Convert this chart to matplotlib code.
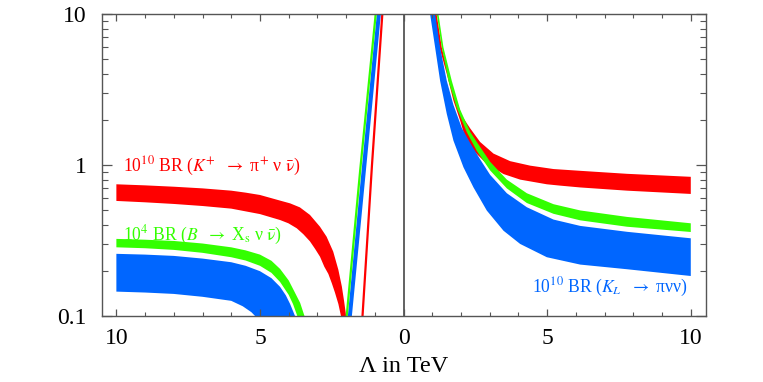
# Branching ratios vs Lambda (bands)
import numpy as np
import matplotlib
matplotlib.use('Agg')
import matplotlib.pyplot as plt
from matplotlib.ticker import FixedLocator, FuncFormatter, LogLocator, NullFormatter

plt.rcParams['font.family'] = ['Liberation Serif', 'DejaVu Serif']
plt.rcParams['mathtext.fontset'] = 'stix'

RED = '#ff0000'
GREEN = '#33ff00'
BLUE = '#0066ff'

# --- K+ -> pi+ nu nubar (red) ---
red_neg_up_x = [-10, -9, -8, -7, -6, -5.5, -5, -4.3, -3.95, -3.61, -3.26, -2.91, -2.68,
                -2.45, -2.27, -2.15, -2.07, -2.0, -1.96]
red_neg_up_y = [0.745, 0.733, 0.718, 0.700, 0.676, 0.656, 0.633, 0.581, 0.557, 0.524, 0.467,
                0.390, 0.335, 0.267, 0.202, 0.157, 0.125, 0.1, 0.05]
red_neg_lo_x = [-10, -9, -8, -7, -6, -5, -4.3, -4.01, -3.72, -3.49, -3.26, -3.08, -2.91,
                -2.76, -2.62, -2.50, -2.39, -2.27, -2.18, -2.13]
red_neg_lo_y = [0.578, 0.566, 0.552, 0.535, 0.514, 0.473, 0.432, 0.411, 0.381, 0.348, 0.312,
                0.278, 0.247, 0.212, 0.190, 0.165, 0.143, 0.120, 0.1, 0.05]
red_line_x = [-1.46, -1.43, -1.10, -0.74, -0.70]
red_line_y = [0.05, 0.1, 1.0, 10, 12]
red_pos_up_x = [1.12, 1.15, 1.33, 1.62, 1.90, 2.027, 2.317, 2.666, 3.13, 3.711, 4.408,
                5.221, 6.15, 7.78, 10]
red_pos_up_y = [12, 10, 6.0, 3.6, 2.5, 2.12, 1.75, 1.42, 1.19, 1.06, 0.99,
                0.94, 0.915, 0.874, 0.835]
red_pos_lo_x = [0.98, 1.04, 1.25, 1.504, 1.736, 1.969, 2.143, 2.433, 2.898, 3.479, 4.059,
                4.988, 5.45, 6.15, 7.78, 10]
red_pos_lo_y = [12, 10, 6.0, 4.01, 2.67, 1.97, 1.52, 1.245, 1.015, 0.871, 0.80,
                0.745, 0.730, 0.71, 0.676, 0.643]

# --- B -> Xs nu nubar (green) ---
grn_neg_up_x = [-10, -9, -8, -7, -6, -5.5, -5, -4.6, -4.3, -4.0, -3.8, -3.6, -3.45, -3.4]
grn_neg_up_y = [0.324, 0.320, 0.314, 0.302, 0.285, 0.272, 0.255, 0.232, 0.205, 0.172,
                0.145, 0.122, 0.1, 0.05]
grn_neg_lo_x = [-10, -9, -8, -7, -6, -5.5, -5, -4.6, -4.3, -4.0, -3.85, -3.7, -3.65]
grn_neg_lo_y = [0.285, 0.281, 0.274, 0.262, 0.245, 0.233, 0.215, 0.193, 0.168, 0.138,
                0.120, 0.1, 0.05]
grn_line_x = [-2.01, -1.98, -1.51, -0.97, -0.94]
grn_line_y = [0.05, 0.1, 0.927, 10, 12]
grn_pos_up_x = [1.16, 1.214, 1.388, 1.678, 1.969, 2.317, 2.549, 3.014, 3.595, 4.292,
                5.221, 6.15, 7.78, 10]
grn_pos_up_y = [12, 10, 6.01, 3.61, 2.33, 1.66, 1.42, 1.05, 0.80, 0.65,
                0.55, 0.50, 0.453, 0.411]
grn_pos_lo_x = [1.06, 1.156, 1.330, 1.562, 1.853, 2.201, 2.549, 3.014, 3.595, 4.292,
                5.221, 6.15, 7.78, 10]
grn_pos_lo_y = [12, 10, 6.01, 3.61, 2.38, 1.65, 1.24, 0.92, 0.70, 0.56,
                0.475, 0.43, 0.39, 0.36]

# --- KL -> pi nu nu (blue) ---
blu_neg_up_x = [-10, -9, -8, -7, -6, -5.5, -5, -4.6, -4.3, -4.1, -3.95, -3.78, -3.74]
blu_neg_up_y = [0.258, 0.255, 0.250, 0.240, 0.227, 0.215, 0.198, 0.178, 0.156, 0.137,
                0.12, 0.1, 0.05]
blu_neg_lo_x = [-10, -9, -8, -7, -6, -5.6, -5.3, -5.17, -5.1]
blu_neg_lo_y = [0.145, 0.143, 0.140, 0.134, 0.126, 0.116, 0.106, 0.1, 0.05]
blu_thick_l_x = [-1.97, -1.94, -1.46, -0.93, -0.90]
blu_thick_l_y = [0.05, 0.1, 0.927, 10, 12]
blu_thick_r_x = [-1.83, -1.80, -1.31, -0.79, -0.76]
blu_thick_r_y = [0.05, 0.1, 0.927, 10, 12]
blu_pos_up_x = [1.08, 1.098, 1.272, 1.504, 1.736, 2.027, 2.317, 2.666, 3.014, 3.595,
                4.292, 5.221, 6.15, 7.78, 10]
blu_pos_up_y = [12, 10, 6.01, 3.61, 2.50, 1.76, 1.40, 1.09, 0.86, 0.65,
                0.525, 0.435, 0.395, 0.361, 0.327]
blu_pos_lo_x = [0.88, 0.923, 1.098, 1.272, 1.504, 1.736, 2.085, 2.433, 2.898, 3.479,
                4.059, 4.988, 6.15, 7.78, 10]
blu_pos_lo_y = [12, 10, 6.01, 3.61, 2.18, 1.45, 0.966, 0.711, 0.499, 0.367,
                0.300, 0.245, 0.219, 0.204, 0.184]

x_ticks = [-10, -5, 0, 5, 10]


def band(ax, xu, yu, xl, yl, color):
    # polygon: upper edge forward, lower edge backward
    ax.fill(list(xu) + list(xl)[::-1], list(yu) + list(yl)[::-1],
            color=color, lw=0)


fig = plt.figure(figsize=(7.63, 3.82), dpi=100)
ax = fig.add_axes([0.1337, 0.1728, 0.7916, 0.7906])
ax.set_yscale('log')

band(ax, red_neg_up_x, red_neg_up_y, red_neg_lo_x, red_neg_lo_y, RED)
band(ax, red_pos_up_x, red_pos_up_y, red_pos_lo_x, red_pos_lo_y, RED)
ax.plot(red_line_x, red_line_y, color=RED, lw=1.6)

band(ax, grn_neg_up_x, grn_neg_up_y, grn_neg_lo_x, grn_neg_lo_y, GREEN)
band(ax, grn_pos_up_x, grn_pos_up_y, grn_pos_lo_x, grn_pos_lo_y, GREEN)
ax.plot(grn_line_x, grn_line_y, color=GREEN, lw=1.6)

band(ax, blu_neg_up_x, blu_neg_up_y, blu_neg_lo_x, blu_neg_lo_y, BLUE)
band(ax, blu_pos_up_x, blu_pos_up_y, blu_pos_lo_x, blu_pos_lo_y, BLUE)
band(ax, blu_thick_l_x, blu_thick_l_y, blu_thick_r_x, blu_thick_r_y, BLUE)

ax.axvline(0, color='#555555', lw=1.3)

ax.set_xlim(-10.5, 10.53)
ax.set_ylim(0.1, 10)

# axes styling
for s in ax.spines.values():
    s.set_color('#555555')
    s.set_linewidth(1.0)
ax.xaxis.set_major_locator(FixedLocator(x_ticks))
ax.xaxis.set_minor_locator(FixedLocator(list(range(-10, 11))))
ax.xaxis.set_major_formatter(FuncFormatter(lambda v, p: '%d' % abs(v)))
ax.yaxis.set_major_locator(FixedLocator([0.1, 1, 10]))
ax.yaxis.set_major_formatter(FuncFormatter(lambda v, p: '%g' % v))
ax.yaxis.set_minor_locator(LogLocator(base=10, subs=np.arange(2, 10)))
ax.yaxis.set_minor_formatter(NullFormatter())
ax.tick_params(which='both', direction='in', top=True, right=True,
               color='#555555', labelsize=17)
ax.tick_params(which='major', length=5, width=0.9)
ax.tick_params(which='minor', length=3, width=0.8)
ax.tick_params(axis='x', which='major', pad=9)
ax.tick_params(axis='y', which='major', length=7, pad=11)
ax.tick_params(axis='y', which='minor', length=4)

ax.set_xlabel('Λ in TeV', fontsize=17.5, labelpad=5)

ax.text(-9.78, 0.904, r'10$^{10}$ BR ($K^{+}$  $\rightarrow$ π$^{+}$ ν $\bar{\mathrm{\nu}}$)',
        color=RED, fontsize=12.7, va='baseline', ha='left')
ax.text(-9.78, 0.318, r'10$^{4}$ BR ($B$  $\rightarrow$ X$_{\mathrm{s}}$ ν $\bar{\mathrm{\nu}}$)',
        color=GREEN, fontsize=12.7, va='baseline', ha='left')
ax.text(9.87, 0.1426, r'10$^{10}$ BR ($K_{L}$  $\rightarrow$ πνν)',
        color=BLUE, fontsize=12.7, va='baseline', ha='right')

fig.savefig('out.png', dpi=100)
